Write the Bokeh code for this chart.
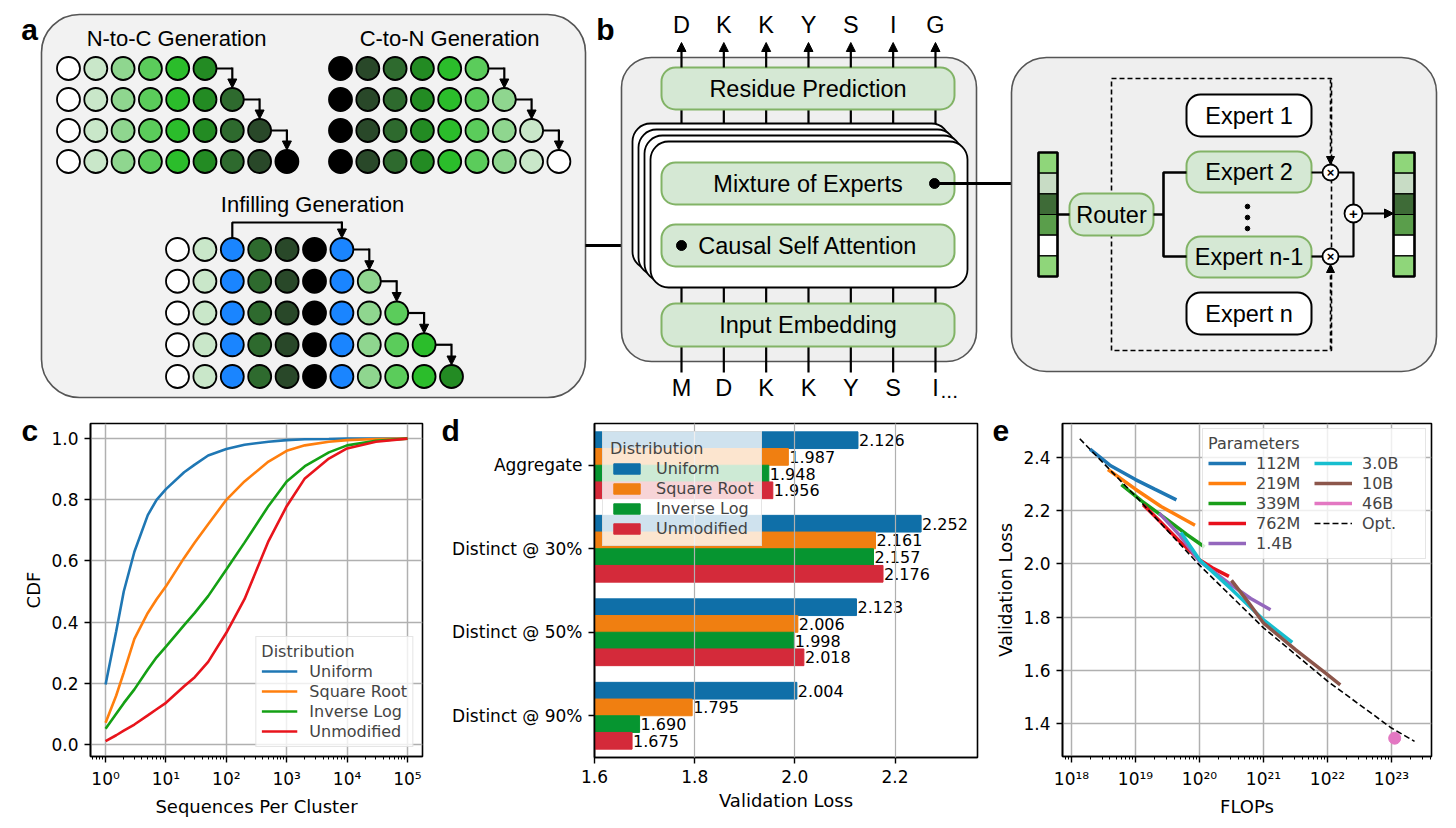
from bokeh.plotting import figure
from bokeh.models import (Range1d, FactorRange, ColumnDataSource, Arrow, NormalHead,
                          FixedTicker, CustomJSTickFormatter, NumeralTickFormatter)
from bokeh.layouts import column, row
from bokeh.transform import dodge
from bokeh.core.properties import value
from bokeh.embed import file_html
from bokeh.resources import INLINE

# ---------------- data ----------------
# panel c : CDF of sequences per cluster
cluster_sizes = [1, 1.5, 2, 3, 5, 7, 10, 20, 30, 50, 100, 200, 500, 1000, 2000, 5000, 1e4, 3e4, 1e5]
cdf_uniform = [0.196, 0.37, 0.50, 0.63, 0.75, 0.80, 0.835, 0.89, 0.915, 0.945, 0.966, 0.98, 0.99, 0.995, 0.998, 0.999, 1.0, 1.0, 1.0]
cdf_sqrt = [0.071, 0.16, 0.235, 0.345, 0.43, 0.475, 0.517, 0.61, 0.66, 0.72, 0.80, 0.86, 0.925, 0.96, 0.978, 0.99, 0.995, 0.999, 1.0]
cdf_invlog = [0.051, 0.10, 0.135, 0.18, 0.245, 0.285, 0.32, 0.39, 0.43, 0.485, 0.572, 0.66, 0.78, 0.86, 0.91, 0.955, 0.978, 0.993, 1.0]
cdf_unmod = [0.011, 0.03, 0.045, 0.065, 0.095, 0.115, 0.136, 0.19, 0.22, 0.27, 0.365, 0.475, 0.665, 0.779, 0.87, 0.935, 0.968, 0.99, 1.0]
dist_names = ["Uniform", "Square Root", "Inverse Log", "Unmodified"]

# panel d : validation loss per distribution
d_categories = ["Aggregate", "Distinct @ 30%", "Distinct @ 50%", "Distinct @ 90%"]
loss_uniform = [2.126, 2.252, 2.123, 2.004]
loss_sqrt = [1.987, 2.161, 2.006, 1.795]
loss_invlog = [1.948, 2.157, 1.998, 1.690]
loss_unmod = [1.956, 2.176, 2.018, 1.675]

# panel e : scaling curves (FLOPs, validation loss)
flops_112m = [10**18.29, 10**18.6, 10**19.0, 10**19.3, 10**19.64]
loss_112m = [2.43, 2.37, 2.316, 2.28, 2.24]
flops_219m = [10**18.57, 10**19.0, 10**19.4, 10**19.93]
loss_219m = [2.354, 2.28, 2.215, 2.145]
flops_339m = [10**18.78, 10**19.1, 10**19.5, 10**19.8, 10**20.08]
loss_339m = [2.297, 2.235, 2.165, 2.11, 2.063]
flops_762m = [10**19.12, 10**19.4, 10**19.69, 10**20.0, 10**20.2, 10**20.46]
loss_762m = [2.222, 2.155, 2.085, 2.015, 1.985, 1.953]
flops_1_4b = [10**19.37, 10**19.7, 10**20.0, 10**20.5, 10**20.8, 10**21.11]
loss_1_4b = [2.19, 2.105, 2.01, 1.92, 1.87, 1.828]
flops_3_0b = [10**19.71, 10**20.0, 10**20.5, 10**21.0, 10**21.45]
loss_3_0b = [2.118, 2.015, 1.905, 1.79, 1.705]
flops_10b = [10**20.5, 10**20.75, 10**21.0, 10**21.5, 10**22.0, 10**22.2]
loss_10b = [1.938, 1.86, 1.778, 1.678, 1.584, 1.546]
flops_46b = [10**23.05]
loss_46b = [1.346]
flops_opt = [10**18.13, 10**19, 10**20, 10**21, 10**22, 10**23, 10**23.36]
loss_opt = [2.469, 2.254, 1.995, 1.76, 1.56, 1.384, 1.334]
param_names = ["112M", "219M", "339M", "762M", "1.4B", "3.0B", "10B", "46B", "Opt."]

# diagram labels
top_tokens = ["D", "K", "K", "Y", "S", "I", "G"]
bottom_tokens = ["M", "D", "K", "K", "Y", "S", "I"]

# ---------------- styles ----------------
DIA = value("Liberation Sans")
PLT = "DejaVu Sans"
GREENS = ["#ffffff", "#c9e7c9", "#8fd68f", "#5bcc5b", "#2bbd2b", "#238b23", "#2e6a2e", "#294829", "#000000"]
BLUE = "#1a85ff"
BOX_FILL, BOX_LINE = "#d5e8d4", "#82b366"
C_COLORS = ["#1f77b4", "#ff7f0e", "#14a014", "#e8141c"]
D_COLORS = ["#0f6fa8", "#f07f11", "#069530", "#d42a3a"]
E_COLORS = ["#1f77b4", "#ff7f0e", "#1a9e1a", "#e8101c", "#9467bd", "#17becf", "#8c564b", "#e377c2", "black"]
BT = "23.5px"   # text size in panel b

# ---------------- top diagram ----------------
top = figure(frame_width=1447, frame_height=409, x_range=Range1d(1, 1448), y_range=Range1d(410, 1),
             output_backend="svg", toolbar_location=None, min_border=0,
             x_axis_location=None, y_axis_location=None, outline_line_color=None)
top.grid.visible = False


def box(l, t, r, b, radius, fill, line, lw=2.0, dash="solid"):
    top.quad(left=[l], right=[r], top=[t], bottom=[b], border_radius=radius,
             fill_color=fill, line_color=line, line_width=lw, line_dash=dash)


def txt(x, y, s, size="22px", align="center", style="normal"):
    top.text(x=[x], y=[y], text=[s], text_font=DIA, text_font_size=size, text_align=align,
             text_baseline="middle", text_font_style=style, text_color="black")


def seg(xs, ys, lw=2.2, dash="solid"):
    top.line(xs, ys, line_color="black", line_width=lw, line_dash=dash)


def arrow(x0, y0, x1, y1, lw=2.2, dash="solid", size=9):
    top.add_layout(Arrow(x_start=x0, y_start=y0, x_end=x1, y_end=y1, line_width=lw, line_dash=dash,
                         line_color="black",
                         end=NormalHead(size=size, fill_color="black", line_color="black", line_width=1)))


R = 11.5
# panel a
box(42, 15, 586, 398, 38, "#f2f2f2", "#555555", 1.6)
txt(30, 30, "a", "30px", style="bold")
txt(177, 39, "N-to-C Generation")
txt(450, 39, "C-to-N Generation")
txt(313, 205, "Infilling Generation")


def circle_rows(x0, dx, y0, dy, rows):
    xs, ys, cs = [], [], []
    for r, cols in enumerate(rows):
        for i, c in enumerate(cols):
            xs.append(x0 + i * dx)
            ys.append(y0 + r * dy)
            cs.append(c)
    for r in range(len(rows) - 1):
        n = len(rows[r])
        xa = x0 + (n - 1) * dx + R
        xb = x0 + n * dx
        y = y0 + r * dy
        seg([xa, xb], [y, y])
        arrow(xb, y - 1, xb, y0 + (r + 1) * dy - R)
    top.circle(xs, ys, radius=R, fill_color=cs, line_color="black", line_width=1.8)


n2c = [GREENS[:6 + r] for r in range(4)]
c2n = [[GREENS[8 - i] for i in range(6 + r)] for r in range(4)]
infill_base = [GREENS[0], GREENS[1], BLUE, GREENS[6], GREENS[7], GREENS[8], BLUE]
infill = [infill_base + GREENS[2:2 + r] for r in range(5)]
circle_rows(69, 27.3, 69, 31, n2c)
circle_rows(341, 27.3, 69, 31, c2n)
ix0, idx, iy0 = 178, 27.4, 250
seg([ix0 + 2 * idx, ix0 + 2 * idx, ix0 + 6 * idx], [iy0 - R, iy0 - 27, iy0 - 27])
arrow(ix0 + 6 * idx, iy0 - 28, ix0 + 6 * idx, iy0 - R)
circle_rows(ix0, idx, iy0, 31.75, infill)

# connector a -> b
seg([586, 682], [246, 246], lw=3)

# panel b
txt(606, 30, "b", "30px", style="bold")
box(622, 58, 977, 362, 30, "#efefef", "#555555", 1.6)
colx = [682 + 42.33 * k for k in range(7)]
for k, x in enumerate(colx):
    arrow(x, 68, x, 43)
    seg([x, x], [110, 125])
    seg([x, x], [288, 304])
    seg([x, x], [347, 373])
    txt(x, 25, top_tokens[k], BT)
    txt(x, 388, bottom_tokens[k], BT)
txt(colx[-1] + 5, 391, "...", "21px", align="left")
for k in (3, 2, 1, 0):
    s = 6 * k
    box(651 - s, 142 - s, 968 - s, 288 - s, 18, "white", "black", 1.8)
for (t, b, label) in [(68, 110, "Residue Prediction"), (163, 205, "Mixture of Experts"),
                      (225, 267, "Causal Self Attention"), (304, 347, "Input Embedding")]:
    box(662, t, 955, b, 14, BOX_FILL, BOX_LINE, 2)
    txt(808.5, (t + b) / 2, label, BT)
seg([935, 1012], [184, 184], lw=3)
top.circle([935, 682], [184, 246], radius=5, fill_color="black", line_color="black")

# MoE detail
box(1012, 58, 1437, 372, 35, "#efefef", "#555555", 1.6)
box(1112, 79, 1332, 351, 0, None, "black", 1.6, "5 3")
for (t, b, label, fill, line) in [(95, 137, "Expert 1", "white", "black"),
                                  (152, 193, "Expert 2", BOX_FILL, BOX_LINE),
                                  (237, 278, "Expert n-1", BOX_FILL, BOX_LINE),
                                  (293, 335, "Expert n", "white", "black")]:
    box(1187, t, 1312, b, 14, fill, line, 2)
    txt(1249.5, (t + b) / 2, label, BT)
top.circle([1248, 1248, 1248], [207, 218, 229], radius=2.3, fill_color="black", line_color="black")
box(1070, 194, 1154, 236, 14, BOX_FILL, BOX_LINE, 2)
txt(1112, 215, "Router", BT)
vec_colors = ["#8fd67a", "#c8dcc5", "#3e6b37", "#5a9e4b", "#ffffff", "#8fd67a"]
cell = (277 - 153) / 6
for (vl, vr) in [(1039, 1058), (1394, 1415)]:
    top.quad(left=[vl] * 6, right=[vr] * 6, top=[153 + i * cell for i in range(6)],
             bottom=[153 + (i + 1) * cell for i in range(6)], fill_color=vec_colors,
             line_color="black", line_width=1.2)
    top.quad(left=[vl], right=[vr], top=[153], bottom=[277], fill_color=None, line_color="black", line_width=2.6)
seg([1058, 1070], [215, 215], lw=2.6)
seg([1154, 1164], [215, 215], lw=2.6)
seg([1187, 1164, 1164, 1187], [173, 173, 257, 257], lw=2.6)
seg([1312, 1323], [173, 173], lw=2.2)
seg([1312, 1323], [257, 257], lw=2.2)
seg([1339, 1354, 1354], [173, 173, 205], lw=2.2)
seg([1339, 1354, 1354], [257, 257, 223], lw=2.2)
arrow(1363, 214, 1394, 214, lw=2.2)
arrow(1331, 80, 1331, 165, lw=1.6, dash="4 3", size=8)
arrow(1331, 350, 1331, 265, lw=1.6, dash="4 3", size=8)
top.circle([1331, 1331, 1354], [173, 257, 214], radius=[8, 8, 9], fill_color="white",
           line_color="black", line_width=1.8)
txt(1331, 173, "×", "13px", style="bold")
txt(1331, 257, "×", "13px", style="bold")
txt(1354, 214, "+", "15px", style="bold")


# ---------------- helpers for plots ----------------
def style(p):
    p.outline_line_color = "black"
    p.outline_line_width = 1.6
    p.background_fill_color = "white"
    for ax in p.axis:
        ax.axis_line_color = "black"
        ax.axis_line_width = 1.6
        ax.major_tick_line_color = "black"
        ax.major_tick_line_width = 1.4
        ax.major_tick_in = 0
        ax.major_tick_out = 6
        ax.minor_tick_line_color = "black"
        ax.minor_tick_line_width = 1.0
        ax.minor_tick_in = 0
        ax.minor_tick_out = 3
        ax.major_label_text_font = PLT
        ax.major_label_text_font_size = "17px"
        ax.major_label_text_color = "black"
        ax.major_label_standoff = 6
        ax.axis_label_text_font = PLT
        ax.axis_label_text_font_size = "18px"
        ax.axis_label_text_font_style = "normal"
        ax.axis_label_text_color = "black"
        ax.axis_label_standoff = 4
    p.grid.grid_line_color = "#b0b0b0"
    p.grid.grid_line_width = 1.5
    p.grid.grid_line_alpha = 1.0


def style_legend(lg, title):
    lg.title = title
    lg.title_text_font = PLT
    lg.title_text_font_size = "16px"
    lg.title_text_font_style = "normal"
    lg.title_standoff = 0
    lg.label_text_font = PLT
    lg.label_text_font_size = "16px"
    lg.label_height = 20
    lg.glyph_height = 20
    lg.spacing = 0
    lg.padding = 5
    lg.border_line_color = "#cccccc"
    lg.border_line_width = 1
    lg.background_fill_alpha = 0.8


def panel_letter(p, s, offset):
    t = p.title
    t.text = "\n" + s
    t.text_font = "Liberation Sans"
    t.text_font_style = "bold"
    t.text_font_size = "30px"
    t.text_line_height = 0.62
    t.text_color = "black"
    t.align = "left"
    t.vertical_align = "top"
    t.offset = offset
    t.standoff = -50


log_fmt = CustomJSTickFormatter(code="""
const e = Math.round(Math.log10(tick));
const sup = {"0":"\u2070","1":"\u00b9","2":"\u00b2","3":"\u00b3","4":"\u2074","5":"\u2075","6":"\u2076","7":"\u2077","8":"\u2078","9":"\u2079","-":"\u207b"};
return "10" + String(e).split("").map(c => sup[c]).join("");
""")

# ---------------- panel c ----------------
pc = figure(frame_width=332, frame_height=333, x_axis_type="log",
            x_range=Range1d(10 ** -0.25, 10 ** 5.25), y_range=Range1d(-0.0395, 1.0495),
            min_border_left=90, min_border_right=13, min_border_top=14, min_border_bottom=63,
            output_backend="svg", toolbar_location=None,
            x_axis_label="Sequences Per Cluster", y_axis_label="CDF")
for name, vals, col in zip(dist_names, [cdf_uniform, cdf_sqrt, cdf_invlog, cdf_unmod], C_COLORS):
    pc.line(cluster_sizes, vals, line_color=col, line_width=2.6, legend_label=name)
style(pc)
pc.xaxis.ticker = FixedTicker(ticks=[10 ** k for k in range(0, 6)],
                              minor_ticks=[m * 10 ** k for k in range(-1, 6) for m in range(2, 10)])
pc.xaxis.formatter = log_fmt
pc.yaxis.ticker = FixedTicker(ticks=[0, 0.2, 0.4, 0.6, 0.8, 1.0])
pc.yaxis.formatter = NumeralTickFormatter(format="0.0")
style_legend(pc.legend[0], "Distribution")
pc.legend.location = "bottom_right"
pc.legend.margin = 9
pc.legend.glyph_width = 36
pc.legend.label_standoff = 12
panel_letter(pc, "c", -69)

# ---------------- panel d ----------------
pdd = figure(frame_width=383, frame_height=334, y_range=FactorRange(factors=list(reversed(d_categories))),
             x_range=Range1d(1.6, 2.3646),
             min_border_left=159, min_border_right=10, min_border_top=13, min_border_bottom=63,
             output_backend="svg", toolbar_location=None, x_axis_label="Validation Loss")
d_data = dict(cat=d_categories)
for s, vals in zip(dist_names, [loss_uniform, loss_sqrt, loss_invlog, loss_unmod]):
    d_data[s] = vals
    d_data[s + "_lbl"] = ["%.3f" % v for v in vals]
d_src = ColumnDataSource(d_data)
for s, col, off in zip(dist_names, D_COLORS, [0.3, 0.1, -0.1, -0.3]):
    pdd.hbar(y=dodge("cat", off, range=pdd.y_range), left=0, right=s, height=0.2, source=d_src,
             fill_color=col, line_color=col, line_width=1, legend_label=s)
    pdd.text(x=s, y=dodge("cat", off, range=pdd.y_range), text=s + "_lbl", source=d_src,
             text_font=value(PLT), text_font_size="16px", text_baseline="middle", text_align="left",
             x_offset=1, text_color="black")
style(pdd)
pdd.ygrid.visible = False
pdd.xgrid.level = "guide"
pdd.xgrid.grid_line_width = 1.2
pdd.xaxis.ticker = FixedTicker(ticks=[1.6, 1.8, 2.0, 2.2])
pdd.xaxis.formatter = NumeralTickFormatter(format="0.0")
style_legend(pdd.legend[0], "Distribution")
pdd.legend.location = "top_left"
pdd.legend.margin = 8
pdd.legend.glyph_width = 33
pdd.legend.glyph_height = 13
pdd.legend.label_standoff = 13
pdd.legend.padding = 7
panel_letter(pdd, "d", -153)

# ---------------- panel e ----------------
pe = figure(frame_width=369, frame_height=333, x_axis_type="log",
            x_range=Range1d(10 ** 17.86, 10 ** 23.625), y_range=Range1d(1.2773, 2.5264),
            min_border_left=75, min_border_right=16, min_border_top=14, min_border_bottom=63,
            output_backend="svg", toolbar_location=None, x_axis_label="FLOPs", y_axis_label="Validation Loss")
series_e = [(flops_112m, loss_112m), (flops_219m, loss_219m), (flops_339m, loss_339m),
            (flops_762m, loss_762m), (flops_1_4b, loss_1_4b), (flops_3_0b, loss_3_0b),
            (flops_10b, loss_10b), (flops_46b, loss_46b)]
for (fx, ly), name, col in zip(series_e, param_names[:8], E_COLORS[:8]):
    pe.line(fx, ly, line_color=col, line_width=3.5, legend_label=name)
pe.scatter(flops_46b, loss_46b, size=12, fill_color=E_COLORS[7], line_color=E_COLORS[7])
pe.line(flops_opt, loss_opt, line_color="black", line_width=1.6, line_dash="6 3", legend_label="Opt.")
style(pe)
pe.xaxis.ticker = FixedTicker(ticks=[10 ** k for k in range(18, 24)],
                              minor_ticks=[m * 10 ** k for k in range(17, 24) for m in range(2, 10)])
pe.xaxis.formatter = log_fmt
pe.yaxis.ticker = FixedTicker(ticks=[1.4, 1.6, 1.8, 2.0, 2.2, 2.4])
pe.yaxis.formatter = NumeralTickFormatter(format="0.0")
style_legend(pe.legend[0], "Parameters")
pe.legend.location = "top_right"
pe.legend.margin = 5
pe.legend.ncols = 2
pe.legend.glyph_width = 38
pe.legend.label_standoff = 10
pe.legend.label_width = 58
panel_letter(pe, "e", -70)

layout = column(top, row(pc, pdd, pe))
open("out.html", "w").write(file_html(layout, INLINE))
